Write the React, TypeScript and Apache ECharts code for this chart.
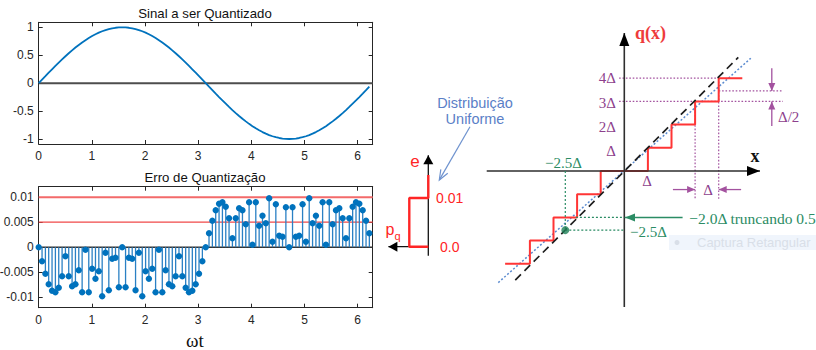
import { useEffect, useRef } from "react";
import * as echarts from "echarts";

// ---------------- left plots: samples ----------------
const tValues = [
  0, 0.063, 0.126, 0.188, 0.251, 0.314, 0.377, 0.44, 0.503, 0.565,
  0.628, 0.691, 0.754, 0.817, 0.88, 0.942, 1.005, 1.068, 1.131, 1.194,
  1.257, 1.319, 1.382, 1.445, 1.508, 1.571, 1.634, 1.696, 1.759, 1.822,
  1.885, 1.948, 2.011, 2.073, 2.136, 2.199, 2.262, 2.325, 2.388, 2.45,
  2.513, 2.576, 2.639, 2.702, 2.765, 2.827, 2.89, 2.953, 3.016, 3.079,
  3.142, 3.204, 3.267, 3.33, 3.393, 3.456, 3.519, 3.581, 3.644, 3.707,
  3.77, 3.833, 3.896, 3.958, 4.021, 4.084, 4.147, 4.21, 4.273, 4.335,
  4.398, 4.461, 4.524, 4.587, 4.65, 4.712, 4.775, 4.838, 4.901, 4.964,
  5.027, 5.089, 5.152, 5.215, 5.278, 5.341, 5.404, 5.466, 5.529, 5.592,
  5.655, 5.718, 5.781, 5.843, 5.906, 5.969, 6.032, 6.095, 6.158, 6.22,
];

const signalValues = [
  0, 0.0628, 0.1253, 0.1874, 0.2487, 0.309, 0.3681, 0.4258, 0.4818, 0.5358,
  0.5878, 0.6374, 0.6845, 0.729, 0.7705, 0.809, 0.8443, 0.8763, 0.9048, 0.9298,
  0.9511, 0.9686, 0.9823, 0.9921, 0.998, 1.0, 0.998, 0.9921, 0.9823, 0.9686,
  0.9511, 0.9298, 0.9048, 0.8763, 0.8443, 0.809, 0.7705, 0.729, 0.6845, 0.6374,
  0.5878, 0.5358, 0.4818, 0.4258, 0.3681, 0.309, 0.2487, 0.1874, 0.1253, 0.0628,
  0, -0.0628, -0.1253, -0.1874, -0.2487, -0.309, -0.3681, -0.4258, -0.4818, -0.5358,
  -0.5878, -0.6374, -0.6845, -0.729, -0.7705, -0.809, -0.8443, -0.8763, -0.9048, -0.9298,
  -0.9511, -0.9686, -0.9823, -0.9921, -0.998, -1.0, -0.998, -0.9921, -0.9823, -0.9686,
  -0.9511, -0.9298, -0.9048, -0.8763, -0.8443, -0.809, -0.7705, -0.729, -0.6845, -0.6374,
  -0.5878, -0.5358, -0.4818, -0.4258, -0.3681, -0.309, -0.2487, -0.1874, -0.1253, -0.0628,
];

const errorValues = [
  0, -0.0028, -0.0053, -0.0074, -0.0087, -0.009, -0.0081, -0.0058, -0.0018, -0.0058,
  -0.0078, -0.0074, -0.0046, -0.009, -0.0005, -0.009, -0.0043, -0.0063, -0.0048, -0.0098,
  -0.0011, -0.0086, -0.0023, -0.0021, -0.008, 0, -0.008, -0.0021, -0.0023, -0.0086,
  -0.0011, -0.0098, -0.0048, -0.0063, -0.0043, -0.009, -0.0005, -0.009, -0.0046, -0.0074,
  -0.0078, -0.0058, -0.0018, -0.0058, -0.0081, -0.009, -0.0087, -0.0074, -0.0053, -0.0028,
  0, 0.0028, 0.0053, 0.0074, 0.0087, 0.009, 0.0081, 0.0058, 0.0018, 0.0058,
  0.0078, 0.0074, 0.0046, 0.009, 0.0005, 0.009, 0.0043, 0.0063, 0.0048, 0.0098,
  0.0011, 0.0086, 0.0023, 0.0021, 0.008, 0, 0.008, 0.0021, 0.0023, 0.0086,
  0.0011, 0.0098, 0.0048, 0.0063, 0.0043, 0.009, 0.0005, 0.009, 0.0046, 0.0074,
  0.0078, 0.0058, 0.0018, 0.0058, 0.0081, 0.009, 0.0087, 0.0074, 0.0053, 0.0028,
];

const T_MAX = 6.2832;
const timeTicks = [0, 1, 2, 3, 4, 5, 6];
const signalTicks = [-1, -0.5, 0, 0.5, 1];
const errorTicks = [-0.01, -0.005, 0, 0.005, 0.01];
const errorBoundUpper = 0.01;
const errorBoundMid = 0.005;

// ---------------- middle: uniform pdf (p horizontal, e vertical) ----------------
const pdfShape = [[0, 0.0147], [0, 0.01], [100, 0.01], [100, 0], [0, 0]];
const pdfAxisE = [[0, -0.00185], [0, 0.0188]];
const pdfAxisP = [[0, 0], [210, 0]];

// ---------------- right: quantizer (units of Δ) ----------------
const qStaircase = [
  [5.0, 4], [4, 4], [4, 3], [3, 3], [3, 2], [2, 2], [2, 1], [1, 1], [1, 0],
  [-1, 0], [-1, -1], [-2, -1], [-2, -2], [-3, -2], [-3, -3], [-4, -3], [-4, -4], [-5.05, -4],
];
const qIdentity = [[-4.62, -4.7], [4.83, 4.9]];
const qShifted = [[-5.34, -4.81], [5.36, 4.86]];
const qAxisX = [[-5.83, 0], [5.75, 0]];
const qAxisY = [[0, -5.86], [0, 5.95]];
const guideLevel4 = [[-0.22, 4], [4, 4]];
const guideLevel3 = [[-0.22, 3], [6.72, 3]];
const guideHalf = [[4, 3.45], [6.72, 3.45]];
const guideStep3 = [[3, 3], [3, -1.25]];
const guideStep4 = [[4, 4], [4, -1.25]];
const deltaArrowL = [[2.06, -0.8], [3, -0.8]];
const deltaArrowR = [[4.95, -0.8], [4, -0.8]];
const halfArrowTop = [[6.25, 4.43], [6.25, 3.45]];
const halfArrowBottom = [[6.25, 1.94], [6.25, 3.0]];
const sampleDrop = [[-2.5, 0], [-2.5, -2.55]];
const sampleLevel = [[-2.5, -2.55], [0, -2.55]];
const truncLevel = [[-2.05, -2], [0, -2]];
const truncArrow = [[2.47, -2], [0.03, -2]];
const samplePoint = [[-2.5, -2.55]];

const SANS = "'Liberation Sans', Arial, sans-serif";
const SERIF = "'Liberation Serif', 'Times New Roman', serif";
const FRAME = "#262626";
const RED = "#ff2525";
const PURPLE = "#8d3f8d";
const PURPLE_LINE = "#a3529f";
const GREEN = "#2b8c64";
const BLUE_NOTE = "#5b7fc7";

const tipOf = (line: number[][]) => [line[1][0], line[1][1], line[0][0], line[0][1]];

function headRenderer(color: string, len: number, wid: number) {
  return (_params: any, api: any) => {
    const tip = api.coord([api.value(0), api.value(1)]);
    const from = api.coord([api.value(2), api.value(3)]);
    const dx = tip[0] - from[0];
    const dy = tip[1] - from[1];
    const d = Math.hypot(dx, dy) || 1;
    const ux = dx / d, uy = dy / d;
    const bx = tip[0] - ux * len, by = tip[1] - uy * len;
    const px = (-uy * wid) / 2, py = (ux * wid) / 2;
    return {
      type: "polygon",
      shape: { points: [[bx + px, by + py], [tip[0], tip[1]], [bx - px, by - py]] },
      style: { fill: color },
    };
  };
}

function seg(data: number[][], idx: number, color: string, width: number, type: any, z = 2) {
  return {
    type: "line",
    xAxisIndex: idx,
    yAxisIndex: idx,
    data,
    symbol: "none",
    showSymbol: false,
    clip: false,
    silent: true,
    z,
    lineStyle: { color, width, type, cap: "butt" },
  };
}

function heads(data: number[][], idx: number, color: string, len: number, wid: number) {
  return {
    type: "custom",
    xAxisIndex: idx,
    yAxisIndex: idx,
    data,
    clip: false,
    silent: true,
    z: 8,
    renderItem: headRenderer(color, len, wid),
  };
}

function plotX(grid: number, pos: "bottom" | "top") {
  return {
    gridIndex: grid,
    type: "value",
    min: 0,
    max: T_MAX,
    position: pos,
    axisLine: { show: true, onZero: false, lineStyle: { color: FRAME, width: 1 } },
    axisTick: { show: true, inside: true, length: 4, customValues: timeTicks, lineStyle: { color: FRAME } },
    axisLabel: {
      show: pos === "bottom",
      customValues: timeTicks,
      margin: 6,
      color: FRAME,
      fontSize: 12,
      fontFamily: SANS,
    },
    splitLine: { show: false },
  };
}

function plotY(grid: number, pos: "left" | "right", min: number, max: number, ticks: number[]) {
  return {
    gridIndex: grid,
    type: "value",
    min,
    max,
    position: pos,
    axisLine: { show: true, onZero: false, lineStyle: { color: FRAME, width: 1 } },
    axisTick: { show: true, inside: true, length: 4, customValues: ticks, lineStyle: { color: FRAME } },
    axisLabel: {
      show: pos === "left",
      customValues: ticks,
      margin: 5,
      color: FRAME,
      fontSize: 12,
      fontFamily: SANS,
    },
    splitLine: { show: false },
  };
}

function hiddenAxis(grid: number, min: number, max: number, inverse = false) {
  return { gridIndex: grid, type: "value", min, max, inverse, show: false, splitLine: { show: false } };
}

function txt(x: number, y: number, text: string, opts: any) {
  return {
    type: "text",
    x,
    y,
    silent: true,
    z: 20,
    style: { text, align: "center", verticalAlign: "middle", ...opts },
  };
}

function vHead(tip: number[], from: number[], len: number, wid: number, color: string) {
  const dx = tip[0] - from[0], dy = tip[1] - from[1];
  const d = Math.hypot(dx, dy) || 1;
  const ux = dx / d, uy = dy / d;
  const bx = tip[0] - ux * len, by = tip[1] - uy * len;
  const px = (-uy * wid) / 2, py = (ux * wid) / 2;
  return {
    type: "polyline",
    silent: true,
    z: 20,
    shape: { points: [[bx + px, by + py], tip, [bx - px, by - py]] },
    style: { stroke: color, lineWidth: 1.2, fill: null },
  };
}

function hLine(xIdx: number, y: number, color: string, width: number, z: number) {
  return {
    type: "line",
    xAxisIndex: xIdx,
    yAxisIndex: xIdx,
    data: [[0, y], [T_MAX, y]],
    symbol: "none",
    showSymbol: false,
    silent: true,
    z,
    lineStyle: { color, width, type: "solid" },
  };
}

export default function App() {
  const ref = useRef<HTMLDivElement>(null);

  useEffect(() => {
    if (!ref.current) return;
    const chart = echarts.init(ref.current, null, { renderer: "svg" });

    const signalData = tValues.map((t, i) => [t, signalValues[i]]);
    const errorData = tValues.map((t, i) => [t, errorValues[i]]);

    const serifLabel = (size: number, color: string, extra: any = {}) => ({
      fontSize: size,
      fontFamily: SERIF,
      fill: color,
      ...extra,
    });

    const option: any = {
      animation: false,
      backgroundColor: "#ffffff",
      grid: [
        { left: 38.7, top: 22.3, width: 334, height: 121.7, outerBoundsMode: "none", containLabel: false },
        { left: 38.7, top: 186.7, width: 334, height: 121, outerBoundsMode: "none", containLabel: false },
        { left: 378.9, top: 149.3, width: 58.9, height: 112, outerBoundsMode: "none", containLabel: false },
        { left: 482.7, top: 20.2, width: 330.4, height: 290, outerBoundsMode: "none", containLabel: false },
      ],
      xAxis: [
        plotX(0, "bottom"),
        plotX(0, "top"),
        plotX(1, "bottom"),
        plotX(1, "top"),
        hiddenAxis(2, -50, 260, true),
        hiddenAxis(3, -6, 8),
      ],
      yAxis: [
        plotY(0, "left", -1.09, 1.09, signalTicks),
        plotY(0, "right", -1.09, 1.09, signalTicks),
        plotY(1, "left", -0.0121, 0.0121, errorTicks),
        plotY(1, "right", -0.0121, 0.0121, errorTicks),
        hiddenAxis(2, -0.003, 0.02),
        hiddenAxis(3, -6, 6.5),
      ],
      series: [
        // ---- top: signal ----
        hLine(0, 0, "#4d4d4d", 2, 2),
        {
          type: "line",
          xAxisIndex: 0,
          yAxisIndex: 0,
          data: signalData,
          showSymbol: false,
          symbol: "none",
          silent: true,
          z: 3,
          lineStyle: { color: "#0072BD", width: 1.8 },
        },
        // ---- bottom: error stems ----
        hLine(2, errorBoundUpper, "#f36a6a", 2, 2),
        hLine(2, errorBoundMid, "#f04848", 1.3, 2),
        hLine(2, 0, "#333333", 1.4, 2),
        {
          type: "custom",
          xAxisIndex: 2,
          yAxisIndex: 2,
          data: errorData,
          silent: true,
          z: 3,
          renderItem: (_p: any, api: any) => {
            const x = api.value(0);
            const y = api.value(1);
            const top = api.coord([x, y]);
            const base = api.coord([x, 0]);
            return {
              type: "group",
              children: [
                {
                  type: "line",
                  shape: { x1: base[0], y1: base[1], x2: top[0], y2: top[1] },
                  style: { stroke: "#2a80c4", lineWidth: 1.3 },
                },
                {
                  type: "circle",
                  shape: { cx: top[0], cy: top[1], r: 3.2 },
                  style: { fill: "#0072BD" },
                  z2: 5,
                },
              ],
            };
          },
        },
        // ---- middle: pdf ----
        seg(pdfAxisE, 4, "#111111", 1.3, "solid", 2),
        seg(pdfAxisP, 4, "#111111", 1.3, "solid", 2),
        seg(pdfShape, 4, RED, 2.4, "solid", 4),
        heads([tipOf(pdfAxisE), tipOf(pdfAxisP)], 4, "#000000", 9, 10),
        // ---- right: quantizer ----
        seg(guideLevel4, 5, PURPLE_LINE, 1.2, [1.6, 1.8], 1),
        seg(guideLevel3, 5, PURPLE_LINE, 1.2, [1.6, 1.8], 1),
        seg(guideHalf, 5, PURPLE_LINE, 1.2, [1.6, 1.8], 1),
        seg(guideStep3, 5, PURPLE_LINE, 1.2, [1.6, 1.8], 1),
        seg(guideStep4, 5, PURPLE_LINE, 1.2, [1.6, 1.8], 1),
        seg(deltaArrowL, 5, PURPLE_LINE, 1.3, "solid", 2),
        seg(deltaArrowR, 5, PURPLE_LINE, 1.3, "solid", 2),
        seg(halfArrowTop, 5, PURPLE_LINE, 1.3, "solid", 2),
        seg(halfArrowBottom, 5, PURPLE_LINE, 1.3, "solid", 2),
        seg(qShifted, 5, "#5b8bd0", 1.5, [2, 2], 2),
        seg(qStaircase, 5, "#ff3535", 2, "solid", 3),
        seg(qIdentity, 5, "#1e1e1e", 1.7, [8, 5], 4),
        seg(qAxisX, 5, "#2e2e2e", 1.6, "solid", 4),
        seg(qAxisY, 5, "#2e2e2e", 1.6, "solid", 4),
        seg(sampleDrop, 5, GREEN, 1.2, [2, 2], 5),
        seg(sampleLevel, 5, GREEN, 1.2, [2, 2], 5),
        seg(truncLevel, 5, GREEN, 1.2, [2, 2], 5),
        seg(truncArrow, 5, GREEN, 1.5, "solid", 5),
        {
          type: "scatter",
          xAxisIndex: 5,
          yAxisIndex: 5,
          data: samplePoint,
          symbol: "circle",
          symbolSize: 8,
          silent: true,
          clip: false,
          z: 7,
          itemStyle: { color: "#1f7f57" },
        },
        heads([tipOf(qAxisX), tipOf(qAxisY)], 5, "#000000", 13, 10),
        heads(
          [tipOf(deltaArrowL), tipOf(deltaArrowR), tipOf(halfArrowTop), tipOf(halfArrowBottom)],
          5,
          PURPLE_LINE,
          8,
          7
        ),
        heads([tipOf(truncArrow)], 5, GREEN, 10, 8),
      ],
      graphic: [
        // titles & labels of left plots
        txt(205, 13.3, "Sinal a ser Quantizado", { fontSize: 13.2, fontFamily: SANS, fill: "#111111" }),
        txt(205, 177.7, "Erro de Quantização", { fontSize: 13.2, fontFamily: SANS, fill: "#111111" }),
        txt(195, 340, "ωt", { fontSize: 19, fontFamily: SERIF, fill: "#111111" }),
        // middle pdf
        txt(415, 161.7, "e", { fontSize: 17, fontFamily: SANS, fill: RED }),
        txt(436, 198.3, "0.01", { fontSize: 14, fontFamily: SANS, fill: RED, align: "left" }),
        txt(440, 246.7, "0.0", { fontSize: 14, fontFamily: SANS, fill: RED, align: "left" }),
        txt(390, 229, "p", { fontSize: 16, fontFamily: SANS, fill: RED }),
        txt(397.5, 236, "q", { fontSize: 11, fontFamily: SANS, fill: RED }),
        txt(475, 103, "Distribuição", { fontSize: 14.5, fontFamily: SANS, fill: BLUE_NOTE }),
        txt(475, 118.5, "Uniforme", { fontSize: 14.5, fontFamily: SANS, fill: BLUE_NOTE }),
        {
          type: "line",
          silent: true,
          z: 20,
          shape: { x1: 470, y1: 126.7, x2: 439.5, y2: 179.6 },
          style: { stroke: "#6f93cf", lineWidth: 1.2 },
        },
        vHead([439.3, 180], [470, 126.7], 10, 8, "#6f93cf"),
        // right quantizer labels
        txt(635, 33, "q(x)", serifLabel(18, "#ee3b3b", { fontWeight: "bold", align: "left" })),
        txt(755, 155.5, "x", serifLabel(18, "#111111", { fontWeight: "bold" })),
        txt(616, 78.3, "4Δ", serifLabel(15, PURPLE, { align: "right" })),
        txt(616, 103, "3Δ", serifLabel(15, PURPLE, { align: "right" })),
        txt(616, 127, "2Δ", serifLabel(15, PURPLE, { align: "right" })),
        txt(616, 150.7, "Δ", serifLabel(15, PURPLE, { align: "right" })),
        txt(647, 181, "Δ", serifLabel(15, PURPLE)),
        txt(708, 189.5, "Δ", serifLabel(15, PURPLE)),
        txt(778, 117, "Δ/2", serifLabel(15, PURPLE, { align: "left" })),
        txt(563.5, 162.7, "−2.5Δ", serifLabel(15, GREEN)),
        txt(689.3, 218, "−2.0Δ truncando 0.5", serifLabel(15.5, GREEN, { align: "left" })),
        txt(630, 231.7, "−2.5Δ", serifLabel(15, GREEN, { align: "left" })),
        // faint screen-capture tooltip
        {
          type: "rect",
          silent: true,
          z: 1,
          shape: { x: 669, y: 235, width: 147, height: 15 },
          style: { fill: "#f0f5fc" },
        },
        {
          type: "circle",
          silent: true,
          z: 2,
          shape: { cx: 677, cy: 242.5, r: 2.5 },
          style: { fill: "#d9dfe8" },
        },
        txt(697, 242.5, "Captura Retangular", { fontSize: 13, fontFamily: SANS, fill: "#d9dfe8", align: "left" }),
      ],
    };

    chart.setOption(option);
    return () => chart.dispose();
  }, []);

  return (
    <div
      ref={ref}
      style={{ position: "absolute", left: 0, top: 0, width: 816, height: 350, background: "#fff" }}
    />
  );
}
